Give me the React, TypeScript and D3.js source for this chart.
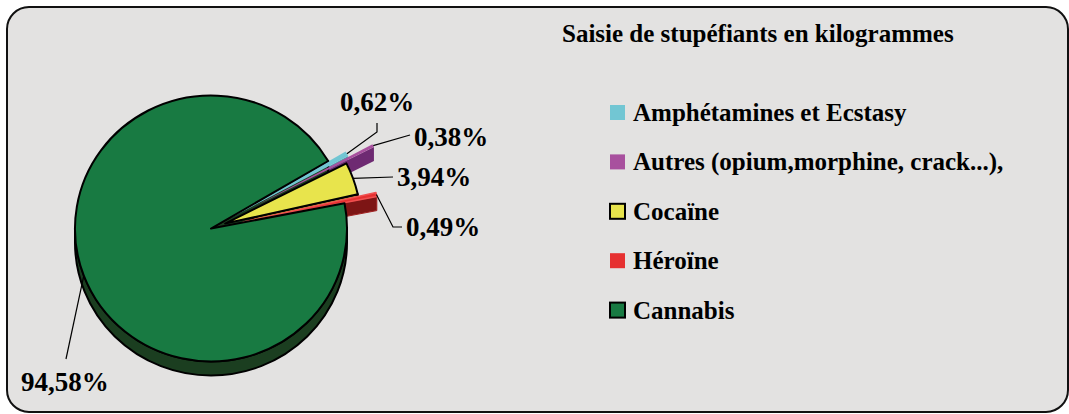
import React from "react";
import * as d3 from "d3";

const title = "Saisie de stupéfiants en kilogrammes";
const categories = [
  "Amphétamines et Ecstasy",
  "Autres (opium,morphine, crack...),",
  "Cocaïne",
  "Héroïne",
  "Cannabis",
];
const shares = [0.62, 0.38, 3.94, 0.49, 94.58];

const topColors = ["#72c6d3", "#a8509e", "#e8e44c", "#e63030", "#187a42"];
const sideColors = ["#4c9eab", "#6e2a72", "#a39c2c", "#7d1515", "#1b3e20"];
const strokeColors = ["none", "none", "#000", "#f05050", "#000"];
const explodeBy = [20, 47, 15, 33, 0];

// label layout: [x, baseline y], leader knee points
const labelPos: [number, number][] = [
  [340, 111],
  [414, 146],
  [397, 186],
  [406, 236],
  [21, 391],
];
const leaderKnees: [number, number][][] = [
  [[377, 132], [377, 123]],
  [[410, 135]],
  [[393, 177]],
  [[393, 227], [402, 227]],
  [[66, 359]],
];

const W = 1069;
const H = 414;
const CX = 211;
const CY = 228.5;
const RX = 136;
const RY = 133;
const DEPTH = 14;
const FONT = "'Liberation Serif', 'Times New Roman', serif";

const fmt = (v: number) => d3.format(".2f")(v).replace(".", ",") + "%";

export default function App() {
  const start = (59.5 * Math.PI) / 180;
  const arcs = d3
    .pie<number>()
    .sort(null)
    .startAngle(start)
    .endAngle(start + 2 * Math.PI)(shares);

  const slices = arcs.map((a, i) => {
    const mid = (a.startAngle + a.endAngle) / 2;
    const e = explodeBy[i];
    const ox = CX + e * Math.sin(mid);
    const oy = CY - e * Math.cos(mid) * (RY / RX);
    const P = (ang: number, dz = 0): [number, number] => [
      ox + RX * Math.sin(ang),
      oy - RY * Math.cos(ang) + dz,
    ];
    return { a, i, ox, oy, P, mid };
  });

  const sidePaths: { d: string; i: number }[] = [];
  const topPaths: { d: string; i: number }[] = [];

  slices.forEach(({ a, i, ox, oy, P }) => {
    const a0 = a.startAngle;
    const a1 = a.endAngle;
    for (const k of [0, 1]) {
      const lo = Math.PI / 2 + k * 2 * Math.PI;
      const hi = (3 * Math.PI) / 2 + k * 2 * Math.PI;
      const b0 = Math.max(a0, lo);
      const b1 = Math.min(a1, hi);
      if (b1 > b0) {
        const p0 = P(b0), p1 = P(b1), q1 = P(b1, DEPTH), q0 = P(b0, DEPTH);
        const large = b1 - b0 > Math.PI ? 1 : 0;
        sidePaths.push({
          i,
          d: `M${p0[0]},${p0[1]}A${RX},${RY} 0 ${large} 1 ${p1[0]},${p1[1]}L${q1[0]},${q1[1]}A${RX},${RY} 0 ${large} 0 ${q0[0]},${q0[1]}Z`,
        });
      }
    }
    if (Math.sin(a1) > 0) {
      const p = P(a1), q = P(a1, DEPTH);
      sidePaths.push({
        i,
        d: `M${ox},${oy}L${p[0]},${p[1]}L${q[0]},${q[1]}L${ox},${oy + DEPTH}Z`,
      });
    }
    if (Math.sin(a0) < 0) {
      const p = P(a0), q = P(a0, DEPTH);
      sidePaths.push({
        i,
        d: `M${ox},${oy}L${p[0]},${p[1]}L${q[0]},${q[1]}L${ox},${oy + DEPTH}Z`,
      });
    }
    const p0 = P(a0), p1 = P(a1);
    const large = a1 - a0 > Math.PI ? 1 : 0;
    topPaths.push({
      i,
      d: `M${ox},${oy}L${p0[0]},${p0[1]}A${RX},${RY} 0 ${large} 1 ${p1[0]},${p1[1]}Z`,
    });
  });

  const legendY = (k: number) => 112.5 + k * 49.4;

  return (
    <svg
      width={W}
      height={H}
      style={{ position: "absolute", left: 0, top: 0, display: "block" }}
    >
      <rect x={0} y={0} width={W} height={H} fill="#ffffff" />
      <rect
        x={7}
        y={7}
        width={1061}
        height={405}
        rx={22}
        ry={22}
        fill="#e3e2e1"
        stroke="#111"
        strokeWidth={2}
      />
      <text
        x={562}
        y={42}
        fontFamily={FONT}
        fontWeight="bold"
        fontSize={25}
        fill="#000"
      >
        {title}
      </text>

      {sidePaths.map((s, k) => (
        <path
          key={"s" + k}
          d={s.d}
          fill={sideColors[s.i]}
          stroke={strokeColors[s.i] === "none" ? "none" : strokeColors[s.i] === "#000" ? "#000" : "#a02020"}
          strokeWidth={strokeColors[s.i] === "#000" ? 2 : 1}
          strokeLinejoin="round"
        />
      ))}
      {topPaths.map((t, k) => (
        <path
          key={"t" + k}
          d={t.d}
          fill={topColors[t.i]}
          stroke={strokeColors[t.i]}
          strokeWidth={strokeColors[t.i] === "#000" ? 2 : 1.5}
          strokeLinejoin="round"
        />
      ))}

      {slices.map(({ i, P, mid }) => {
        const s = P(mid);
        const pts: [number, number][] = [s, ...leaderKnees[i]];
        return (
          <g key={"l" + i}>
            <polyline
              points={pts.map((p) => p.join(",")).join(" ")}
              fill="none"
              stroke="#000"
              strokeWidth={1.2}
            />
            <text
              x={labelPos[i][0]}
              y={labelPos[i][1]}
              fontFamily={FONT}
              fontWeight="bold"
              fontSize={27}
              fill="#000"
            >
              {fmt(shares[i])}
            </text>
          </g>
        );
      })}

      {categories.map((c, k) => (
        <g key={"lg" + k}>
          <rect
            x={610}
            y={legendY(k) - 7.5}
            width={15}
            height={15}
            fill={topColors[k]}
            stroke={strokeColors[k] === "#000" ? "#000" : "none"}
            strokeWidth={2}
          />
          <text
            x={633}
            y={legendY(k) + 8.5}
            fontFamily={FONT}
            fontWeight="bold"
            fontSize={25}
            fill="#000"
          >
            {c}
          </text>
        </g>
      ))}
    </svg>
  );
}
